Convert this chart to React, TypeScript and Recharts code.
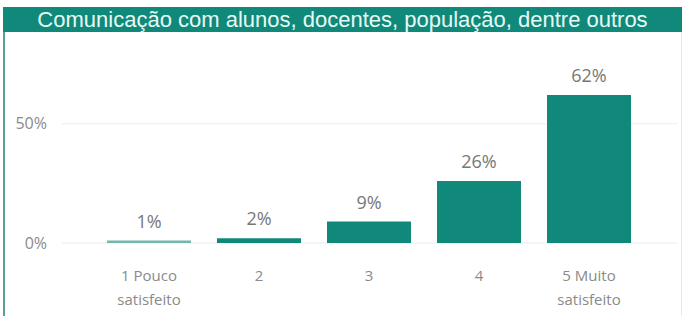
import { BarChart, Bar, XAxis, YAxis, CartesianGrid, LabelList, Cell } from 'recharts'

const categories = ['1 Pouco satisfeito', '2', '3', '4', '5 Muito satisfeito']
const values = [1, 2, 9, 26, 62]
const yTicks = [0, 50]

const data = categories.map((name, i) => ({ name, value: values[i] }))

const TEAL = '#10897b'
const TEAL_LIGHT = '#74b7ae'

function CategoryTick({ x, y, payload }: any) {
  const words = String(payload.value).split(' ')
  const lines = words.length > 1 ? [words[0] + ' ' + words[1], words.slice(2).join(' ')].filter(Boolean) : words
  return (
    <text x={x} y={y} textAnchor="middle" fill="#8a8a8a" fontSize={15} fontFamily="'Open Sans', sans-serif">
      {lines.map((l, i) => (
        <tspan key={i} x={x} dy={i === 0 ? 30 : 24}>{l}</tspan>
      ))}
    </text>
  )
}

export default function App() {
  return (
    <div style={{ position: 'absolute', top: 0, left: 0, width: 684, height: 316, background: '#fff', overflow: 'hidden' }}>
      <div style={{ position: 'absolute', top: 7, left: 3, width: 679, height: 25, background: TEAL, color: '#e6fbf6', fontFamily: "'Liberation Sans', Arial, sans-serif", fontSize: 22, lineHeight: '25px', textAlign: 'center' }}>
        Comunicação com alunos, docentes, população, dentre outros
      </div>
      <div style={{ position: 'absolute', top: 32, left: 3, width: 2, height: 284, background: '#5a9f97' }} />
      <div style={{ position: 'absolute', top: 32, left: 681, width: 1, height: 284, background: '#e4ecea' }} />
      <div style={{ position: 'absolute', top: 0, left: 0 }}>
        <BarChart width={684} height={316} data={data} margin={{ top: 76, right: 7, bottom: 13, left: 0 }} barCategoryGap={13}>
          <CartesianGrid vertical={false} horizontalValues={yTicks} stroke="#ececec" />
          <XAxis
            dataKey="name"
            axisLine={false}
            tickLine={false}
            height={60}
            interval={0}
            padding={{ left: 32, right: 33 }}
            tick={<CategoryTick />}
          />
          <YAxis
            width={62}
            domain={[0, 70]}
            ticks={yTicks}
            axisLine={false}
            tickLine={false}
            tickMargin={9}
            tickFormatter={(v) => `${v}%`}
            tick={{ fontSize: 16, fill: '#8a8a8a', fontFamily: "'Open Sans', sans-serif" }}
          />
          <Bar dataKey="value" fill={TEAL} isAnimationActive={false}>
            {data.map((d, i) => (
              <Cell key={d.name} fill={i === 0 ? TEAL_LIGHT : TEAL} />
            ))}
            <LabelList
              dataKey="value"
              position="top"
              offset={13}
              formatter={(v: any) => `${v}%`}
              style={{ fontSize: 18, fill: '#777', fontFamily: "'Open Sans', sans-serif" }}
            />
          </Bar>
        </BarChart>
      </div>
    </div>
  )
}
